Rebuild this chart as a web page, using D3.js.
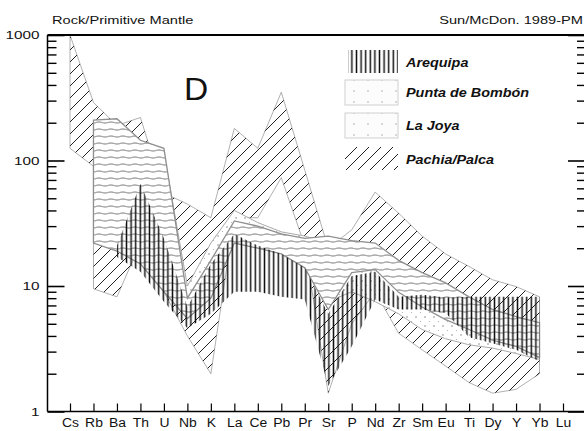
<!DOCTYPE html>
<html>
<head>
<meta charset="utf-8">
<script src="https://cdn.jsdelivr.net/npm/d3@7"></script>
<style>
  html, body { margin: 0; padding: 0; background: #fff; }
  svg { display: block; font-family: "Liberation Sans", Arial, sans-serif; }
</style>
</head>
<body>
<svg id="chart" width="584" height="431"></svg>
<script>
// elements on the x axis
const elements = ["Cs","Rb","Ba","Th","U","Nb","K","La","Ce","Pb","Pr","Sr","P","Nd","Zr","Sm","Eu","Ti","Dy","Y","Yb","Lu"];

// field envelopes (rock / primitive mantle), null = no data
const arequipaHi = [null,null,21,65,24,6.8,15,26,21,18,14,6,12,13,8.2,8.5,8.1,8.2,8.2,8.2,8.2,null];
const arequipaLo = [null,null,17,13,7.5,4.6,6,9,9,8.2,7.8,1.6,3.3,7.8,6.5,6.5,6.1,3.9,3.5,3.1,2.5,null];

const puntaHi = [null,210,215,145,125,8,16,33,30,26,24,25,23,22,16,12.8,10.6,8.2,6.5,5.7,5.1,null];
const puntaLo = [null,22,19,15,9,5.5,8,22,20,18,14,6.5,12.8,13.5,8.9,6.8,5.4,4.5,3.7,3.3,2.7,null];

const laJoyaHi = [null,200,190,130,115,10,22,40,32,27,25,22,20,20,14,11,9,7,5.5,4.8,4.2,null];
const laJoyaLo = [null,25,22,16,10,6,9,24,21,19,15,7.5,9,7.5,6,4.5,3.8,3.4,3.2,2.9,2.6,null];

// Pachia/Palca outline, traced along the top then back along the bottom
const pachiaOutline = [
  ["Cs",1000],["Rb",290],["Ba",190],["Th",220],["U",55],["Nb",45],["K",35],["La",180],
  ["Ce",125],["Pb",350],["Pr",84],["Sr",20],["P",28],["Nd",56],["Zr",38],["Sm",25],
  ["Eu",18],["Ti",14.3],["Dy",11.2],["Y",9.9],["Yb",8.2],
  ["Yb",2.0],["Y",1.5],["Dy",1.4],["Ti",1.7],["Eu",2.3],["Sm",3.1],["Zr",4.2],["Nd",9],
  ["P",5],["Sr",1.4],["Pr",21],["Pb",73],["Ce",35],["La",35],["K",2.0],["Nb",4],["U",9],
  ["Th",22],["Ba",8.2],["Rb",9.5],["Rb",90],["Cs",125]
];

const majorTicks = [1,10,100,1000];
const yTickLabels = ["1","10","100","1000"];
const legendLabels = ["Arequipa","Punta de Bombón","La Joya","Pachia/Palca"];

const svg = d3.select("#chart");

const x = d3.scalePoint().domain(elements).range([70, 563]);
const y = d3.scaleLog().domain([1, 1000]).range([411.5, 35]);

// patterns
const defs = svg.append("defs");
defs.append("pattern").attr("id","vert").attr("patternUnits","userSpaceOnUse")
  .attr("width",4.6).attr("height",10)
  .append("line").attr("x1",2.3).attr("x2",2.3).attr("y1",0).attr("y2",10)
  .attr("stroke","#111").attr("stroke-width",1.5);

const diag = defs.append("pattern").attr("id","diag").attr("patternUnits","userSpaceOnUse")
  .attr("width",12).attr("height",12);
diag.append("path").attr("d","M0,12L12,0M-3,3L3,-3M9,15L15,9")
  .attr("stroke","#222").attr("stroke-width",1);

const horiz = defs.append("pattern").attr("id","horiz").attr("patternUnits","userSpaceOnUse")
  .attr("width",12).attr("height",7);
horiz.append("rect").attr("width",12).attr("height",7).attr("fill","#fff");
horiz.append("path").attr("d","M0,3.5Q3,2.5 6,3.5T12,3.5")
  .attr("fill","none").attr("stroke","#a3a3a3").attr("stroke-width",1.3);

const dots = defs.append("pattern").attr("id","dots").attr("patternUnits","userSpaceOnUse")
  .attr("width",9).attr("height",9);
dots.append("rect").attr("width",9).attr("height",9).attr("fill","#fff");
dots.append("circle").attr("cx",2).attr("cy",2).attr("r",0.8).attr("fill","#888");
dots.append("circle").attr("cx",6.5).attr("cy",6.5).attr("r",0.6).attr("fill","#aaa");

const lightDots = defs.append("pattern").attr("id","lightDots").attr("patternUnits","userSpaceOnUse")
  .attr("width",14).attr("height",11);
lightDots.append("rect").attr("width",14).attr("height",11).attr("fill","#fcfcfc");
lightDots.append("circle").attr("cx",4).attr("cy",3).attr("r",0.7).attr("fill","#999");

// fields
const area = d3.area()
  .defined(d => d.hi != null)
  .x(d => x(d.e))
  .y0(d => y(d.lo))
  .y1(d => y(d.hi));

function field(hi, lo) {
  return elements.map((e, i) => ({ e: e, hi: hi[i], lo: lo[i] }));
}

const outline = d3.line().x(d => x(d[0])).y(d => y(d[1]));

const fields = svg.append("g");
fields.append("path").datum(pachiaOutline)
  .attr("d", d => outline(d) + "Z").attr("fill","url(#diag)")
  .attr("stroke","#444").attr("stroke-width",0.7).attr("stroke-opacity",0.6);
fields.append("path").datum(field(laJoyaHi, laJoyaLo))
  .attr("d", area).attr("fill","url(#dots)")
  .attr("stroke","#aaa").attr("stroke-width",1);
fields.append("path").datum(field(puntaHi, puntaLo))
  .attr("d", area).attr("fill","url(#horiz)")
  .attr("stroke","#8f8f8f").attr("stroke-width",1.3);
fields.append("path").datum(field(arequipaHi, arequipaLo))
  .attr("d", area).attr("fill","url(#vert)");

// frame
const frame = svg.append("g").attr("stroke","#000").attr("fill","none");
frame.append("line").attr("x1",47.5).attr("x2",584).attr("y1",35).attr("y2",35).attr("stroke-width",2);
frame.append("line").attr("x1",47.5).attr("x2",47.5).attr("y1",35).attr("y2",411.5).attr("stroke-width",1.5);
frame.append("line").attr("x1",47.5).attr("x2",584).attr("y1",411.5).attr("y2",411.5).attr("stroke-width",1.3);

// minor tick values
const minorTicks = [];
[1,10,100].forEach(d => { for (let k = 2; k <= 9; k++) minorTicks.push(d * k); });

// left axis
const left = svg.append("g").attr("transform","translate(47.5,0)")
  .call(d3.axisLeft(y).tickValues(majorTicks).tickSize(-17).tickPadding(6)
    .tickFormat((d, i) => yTickLabels[i]));
left.select(".domain").remove();
left.selectAll("line").attr("stroke-width",1.6);
left.selectAll("text").attr("font-size",11.5).attr("fill","#111")
  .attr("font-family","Liberation Sans, Arial, sans-serif")
  .attr("transform","scale(1.33,1)");
const leftMinor = svg.append("g").attr("transform","translate(47.5,0)")
  .call(d3.axisLeft(y).tickValues(minorTicks).tickSize(-9).tickFormat(""));
leftMinor.select(".domain").remove();
leftMinor.selectAll("line").attr("stroke-width",1.4);

// right axis
const right = svg.append("g").attr("transform","translate(584,0)")
  .call(d3.axisRight(y).tickValues(majorTicks).tickSize(-16).tickFormat(""));
right.select(".domain").remove();
right.selectAll("line").attr("stroke-width",1.6);
const rightMinor = svg.append("g").attr("transform","translate(584,0)")
  .call(d3.axisRight(y).tickValues(minorTicks).tickSize(-7).tickFormat(""));
rightMinor.select(".domain").remove();
rightMinor.selectAll("line").attr("stroke-width",1.4);

// bottom axis
const bottom = svg.append("g").attr("transform","translate(0,411.5)")
  .call(d3.axisBottom(x).tickSize(-8).tickPadding(7));
bottom.select(".domain").remove();
bottom.selectAll("line").attr("stroke-width",1.2);
bottom.selectAll("text").attr("font-size",12).attr("fill","#111")
  .attr("font-family","Liberation Sans, Arial, sans-serif")
  .attr("transform","scale(1.16,1)");

// titles
function stretched(txt, px, py, size, sx, anchor, weight, style) {
  svg.append("text")
    .attr("transform", "translate(" + px + "," + py + ") scale(" + sx + ",1)")
    .attr("font-size", size).attr("text-anchor", anchor || "start")
    .attr("font-weight", weight || "normal").attr("font-style", style || "normal")
    .attr("fill", "#111").text(txt);
}
stretched("Rock/Primitive Mantle", 52, 24, 11, 1.33);
stretched("Sun/McDon. 1989-PM", 583, 24, 11, 1.33, "end");
stretched("D", 184, 100, 32, 1.05);

// legend
const legendFills = ["url(#vert)", "url(#lightDots)", "url(#lightDots)", "url(#diag)"];
const legendY = [50, 80, 113, 147];
const legendH = [23, 25, 25, 23];
legendLabels.forEach((lab, i) => {
  const r = svg.append("rect").attr("x", i === 0 ? 348 : 345).attr("y", legendY[i])
    .attr("width", i === 0 ? 50 : 53).attr("height", legendH[i])
    .attr("fill", legendFills[i]);
  if (i === 1 || i === 2) r.attr("stroke","#d0d0d0").attr("stroke-width",1);
  stretched(lab, 406, legendY[i] + 17, 12, 1.2, "start", "bold", "italic");
});
</script>
</body>
</html>
